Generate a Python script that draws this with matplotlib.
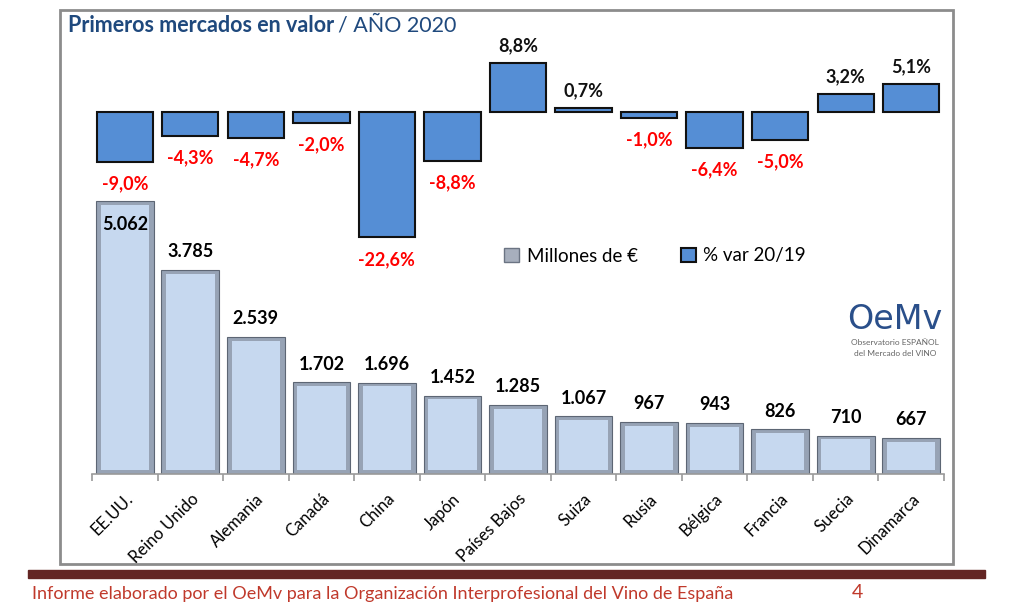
import numpy as np
import matplotlib.pyplot as plt
from matplotlib.patches import Rectangle, Patch

paises = ['EE.UU.', 'Reino Unido', 'Alemania', 'Canadá', 'China', 'Japón',
          'Países Bajos', 'Suiza', 'Rusia', 'Bélgica', 'Francia', 'Suecia',
          'Dinamarca']
millones = [5062, 3785, 2539, 1702, 1696, 1452, 1285, 1067, 967, 943, 826, 710, 667]
var_pct = [-9.0, -4.3, -4.7, -2.0, -22.6, -8.8, 8.8, 0.7, -1.0, -6.4, -5.0, 3.2, 5.1]

W, H = 1016, 616
plt.rcParams['font.family'] = ['Lato', 'DejaVu Sans']

fig = plt.figure(figsize=(W / 100, H / 100), dpi=100)

def fr(x0, y0, x1, y1):
    # pixel box (top-left origin) -> figure fraction rect
    return [x0 / W, 1 - y1 / H, (x1 - x0) / W, (y1 - y0) / H]

x = np.arange(len(paises))

# lower axes: values in millions
ax = fig.add_axes(fr(92, 177.5, 944, 474))
ax.set_xlim(-0.5, len(paises) - 0.5)
ax.set_ylim(0, 5500)
ax.patch.set_alpha(0)
bw = 0.88
ax.bar(x, millones, width=bw, color='#97a3b5', edgecolor='#5d6674', linewidth=0.8, zorder=2)
ax.bar(x, np.array(millones) - 140, width=bw - 0.14, bottom=70, color='#c6d8ef',
       edgecolor='none', zorder=3)
for xi, v in zip(x, millones):
    s = f'{v:,}'.replace(',', '.')
    if xi == 0:
        ax.text(xi, v - 280, s, ha='center', va='top', fontsize=13, fontweight='bold', zorder=4)
    else:
        ax.text(xi, v + 180, s, ha='center', va='bottom', fontsize=13, fontweight='bold', zorder=4)
for side in ['top', 'right', 'left']:
    ax.spines[side].set_visible(False)
ax.spines['bottom'].set_color('#9a9a9a')
ax.spines['bottom'].set_linewidth(1.2)
ax.set_yticks([])
ax.set_xticks(np.arange(len(paises) + 1) - 0.5, minor=True)
ax.set_xticks(x)
ax.set_xticklabels(paises, rotation=45, ha='right', va='top', rotation_mode='anchor', fontsize=12)
ax.tick_params(axis='x', which='major', length=0, pad=12)
ax.tick_params(axis='x', which='minor', length=5, color='#9a9a9a', width=1.2)

# upper axes: % variation
ax2 = fig.add_axes(fr(92, 56.5, 944, 250.75))
ax2.set_xlim(-0.5, len(paises) - 0.5)
ax2.set_ylim(-25, 10)
ax2.axis('off')
ax2.bar(x, var_pct, width=0.86, color='#558ed5', edgecolor='#111111', linewidth=1.5)
for xi, v in zip(x, var_pct):
    s = f'{v:.1f}%'.replace('.', ',')
    if v < 0:
        ax2.text(xi, v - 2.4, s, ha='center', va='top', fontsize=13, fontweight='bold', color='#ff0000')
    else:
        ax2.text(xi, v + 1.6, s, ha='center', va='bottom', fontsize=13, fontweight='bold', color='#111111')

# legend
handles = [Patch(facecolor='#a7afbd', edgecolor='#6b7483', label='Millones de €'),
           Patch(facecolor='#558ed5', edgecolor='#111111', linewidth=1.5, label='% var 20/19')]
fig.legend(handles=handles, loc='center', bbox_to_anchor=(655 / W, 1 - 256 / H), ncol=2,
           frameon=False, fontsize=13.5, handlelength=0.8, handleheight=0.8,
           columnspacing=2.3, handletextpad=0.4)

# frame
fig.patches.append(Rectangle((60 / W, 1 - 564 / H), 893 / W, 554 / H, transform=fig.transFigure,
                             fill=False, edgecolor='#8c8c8c', linewidth=2))

# title
t1 = fig.text(68 / W, 1 - 25 / H, 'Primeros mercados en valor', fontsize=15.5, fontweight='bold',
              color='#1f497d', va='center')
fig.canvas.draw()
bb = t1.get_window_extent()
fig.text(bb.x1 / W + 0.004, 1 - 25 / H, '/ AÑO 2020', fontsize=15.5, color='#1f497d', va='center')

# logo
fig.text(895 / W, 1 - 320 / H, 'OeMv', fontsize=24, color='#2a4f8a', ha='center', va='center',
         family=['DejaVu Sans'])
fig.text(895 / W, 1 - 343 / H, 'Observatorio ESPAÑOL', fontsize=6, color='#666666', ha='center', va='center')
fig.text(895 / W, 1 - 353 / H, 'del Mercado del VINO', fontsize=6, color='#666666', ha='center', va='center')

# footer
fig.patches.append(Rectangle((28 / W, 1 - 578 / H), 957 / W, 8 / H, transform=fig.transFigure,
                             color='#632523'))
fig.text(32 / W, 1 - 594 / H, 'Informe elaborado por el OeMv para la Organización Interprofesional del Vino de España',
         fontsize=13, color='#c0392b', va='center')
fig.text(857 / W, 1 - 593 / H, '4', fontsize=14, color='#c0392b', va='center', ha='center')

fig.savefig('out.png', dpi=100)
